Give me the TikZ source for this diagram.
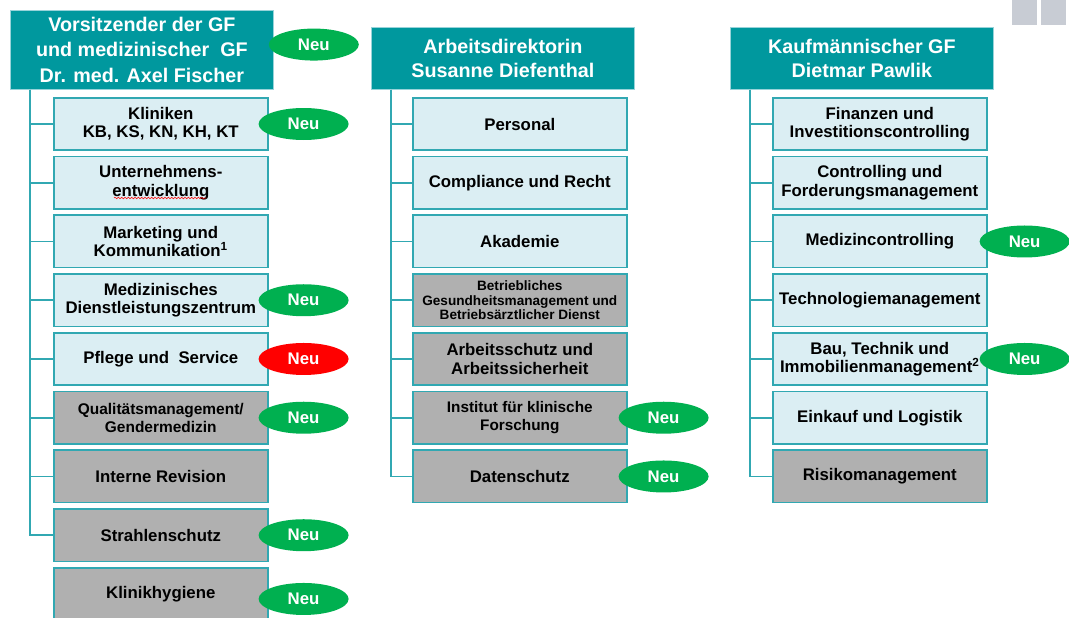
\documentclass[tikz,border=0pt]{standalone}
\usepackage{fontspec}
\setmainfont{Liberation Sans}
\usetikzlibrary{positioning, shapes.geometric, decorations.pathmorphing}
\definecolor{headTeal}{RGB}{0,152,158}
\definecolor{lineTeal}{RGB}{49,168,178}
\definecolor{unitLight}{RGB}{219,238,243}
\definecolor{unitGray}{RGB}{176,176,176}
\definecolor{neuGreen}{RGB}{0,176,80}
\definecolor{neuRed}{RGB}{255,0,0}
\definecolor{tabGray}{RGB}{200,204,212}
\tikzset{
    % Header boxes (managing directors)
    head/.style={
        rectangle,
        fill=headTeal,
        draw=lineTeal!50!white,
        line width=0.6pt,
        text=white,
        align=center,
        minimum width=197.25pt,
        inner sep=0pt,
        font=\bfseries\fontsize{14.8}{18}\selectfont
    },
    % Department boxes
    unit/.style={
        rectangle,
        draw=lineTeal,
        line width=1.2pt,
        minimum width=160.5pt,
        minimum height=39.3pt,
        align=center,
        inner sep=1pt,
        font=\bfseries\fontsize{12.6}{13.6}\selectfont
    },
    unitA/.style={unit, fill=unitLight},
    unitB/.style={unit, fill=unitGray},
    % "Neu" markers
    neu/.style={
        ellipse,
        fill=neuGreen,
        minimum width=67.5pt,
        minimum height=24pt,
        inner sep=0pt,
        text=white,
        font=\bfseries\fontsize{12.6}{14}\selectfont
    },
    neuAlt/.style={neu, fill=neuRed},
    tree/.style={draw=lineTeal, line width=1.2pt}
}

\begin{document}
\begin{tikzpicture}[x=0.75pt, y=-0.75pt, node distance=3.56pt]
    \useasboundingbox (0,0) rectangle (1069,617);

    % --- HEADERS ---
    \node (hdL) [head, anchor=north west, minimum height=59.25pt, font=\bfseries\fontsize{14.8}{19}\selectfont] at (10,10) {
        Vorsitzender der GF \\ und medizinischer~~GF \\ Dr. med. Axel Fischer
    };
    \node (hdM) [head, anchor=north west, minimum height=46.5pt] at (371,27) {
        Arbeitsdirektorin \\ Susanne Diefenthal
    };
    \node (hdR) [head, anchor=north west, minimum height=46.5pt] at (730,27) {
        Kaufmännischer GF \\ Dietmar Pawlik
    };

    % --- LEFT COLUMN ---
    \node (uL1) [unitA, anchor=north west] at (53,97) {Kliniken \\ KB, KS, KN, KH, KT};
    \node (uL2) [unitA, below=of uL1] {Unternehmens- \\ entwicklung};
    \node (uL3) [unitA, below=of uL2] {Marketing und \\ Kommunikation\textsuperscript{1}};
    \node (uL4) [unitA, below=of uL3] {Medizinisches \\ Dienstleistungszentrum};
    \node (uL5) [unitA, below=of uL4] {Pflege und~ Service};
    \node (uL6) [unitB, below=of uL5, font=\bfseries\fontsize{11.6}{13.5}\selectfont] {Qualitätsmanagement/ \\ Gendermedizin};
    \node (uL7) [unitB, below=of uL6] {Interne Revision};
    \node (uL8) [unitB, below=of uL7] {Strahlenschutz};
    \node (uL9) [unitB, below=of uL8] {Klinikhygiene};

    % --- MIDDLE COLUMN ---
    \node (uM1) [unitA, anchor=north west] at (412,97) {Personal};
    \node (uM2) [unitA, below=of uM1] {Compliance und Recht};
    \node (uM3) [unitA, below=of uM2] {Akademie};
    \node (uM4) [unitB, below=of uM3, font=\bfseries\fontsize{10.2}{10.9}\selectfont] {Betriebliches \\ Gesundheitsmanagement und \\ Betriebsärztlicher Dienst};
    \node (uM5) [unitB, below=of uM4, font=\bfseries\fontsize{12.6}{14.3}\selectfont] {Arbeitsschutz und \\ Arbeitssicherheit};
    \node (uM6) [unitB, below=of uM5, font=\bfseries\fontsize{11.5}{13.5}\selectfont] {Institut für klinische \\ Forschung};
    \node (uM7) [unitB, below=of uM6] {Datenschutz};

    % --- RIGHT COLUMN ---
    \node (uR1) [unitA, anchor=north west] at (772,97) {Finanzen und \\ Investitionscontrolling};
    \node (uR2) [unitA, below=of uR1] {Controlling und \\ Forderungsmanagement};
    \node (uR3) [unitA, below=of uR2] {Medizincontrolling};
    \node (uR4) [unitA, below=of uR3] {Technologiemanagement};
    \node (uR5) [unitA, below=of uR4] {Bau, Technik und \\ Immobilienmanagement\textsuperscript{2}};
    \node (uR6) [unitA, below=of uR5] {Einkauf und Logistik};
    \node (uR7) [unitB, below=of uR6] {Risikomanagement};

    % --- Tree lines ---
    \foreach \i in {1,...,8}
        \draw [tree] ([xshift=15pt]hdL.south west) |- (uL\i.west);
    \foreach \i in {1,...,7}
        \draw [tree] ([xshift=15pt]hdM.south west) |- (uM\i.west);
    \foreach \i in {1,...,7}
        \draw [tree] ([xshift=15pt]hdR.south west) |- (uR\i.west);

    % spelling mark under "entwicklung"
    \draw [red, line width=0.4pt, decorate, decoration={snake, amplitude=0.6pt, segment length=2.5pt}]
        (114,198) -- (206,198);

    % --- "Neu" markers ---
    \node (nL0) [neu] at ([xshift=30pt, yshift=4pt]hdL.east) {Neu};
    \node (nL1) [neu] at ([xshift=26.25pt]uL1.east) {Neu};
    \node (nL4) [neu] at ([xshift=26.25pt]uL4.east) {Neu};
    \node (nL5) [neuAlt] at ([xshift=26.25pt]uL5.east) {Neu};
    \node (nL6) [neu] at ([xshift=26.25pt]uL6.east) {Neu};
    \node (nL8) [neu] at ([xshift=26.25pt]uL8.east) {Neu};
    \node (nL9) [neu] at ([xshift=26.25pt, yshift=-3.75pt]uL9.east) {Neu};
    \node (nM6) [neu] at ([xshift=27pt]uM6.east) {Neu};
    \node (nM7) [neu] at ([xshift=27pt]uM7.east) {Neu};
    \node (nR3) [neu] at ([xshift=27.75pt]uR3.east) {Neu};
    \node (nR5) [neu] at ([xshift=27.75pt]uR5.east) {Neu};

    % --- page tabs (top right) ---
    \fill [tabGray] (1012,0) rectangle (1037,25);
    \fill [tabGray] (1041,0) rectangle (1066,25);

\end{tikzpicture}
\end{document}
